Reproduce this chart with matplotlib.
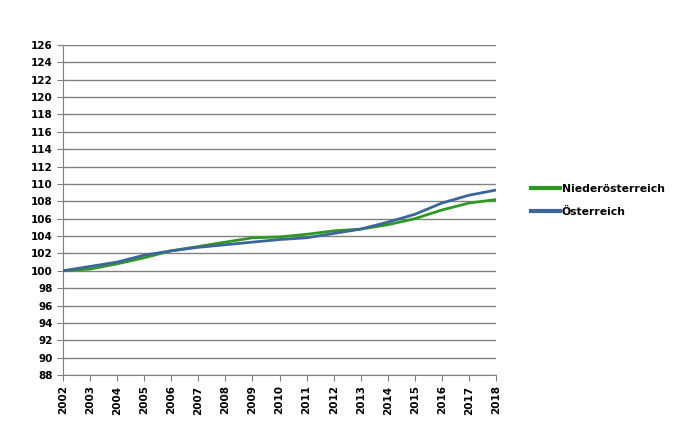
import matplotlib.pyplot as plt

years = list(range(2002, 2019))
noe = [100.0, 100.2, 100.8, 101.5, 102.3, 102.8, 103.3, 103.8, 103.9, 104.2,
       104.6, 104.8, 105.3, 106.0, 107.0, 107.8, 108.2]
oe = [100.0, 100.5, 101.0, 101.8, 102.3, 102.7, 103.0, 103.3, 103.6, 103.8,
      104.3, 104.8, 105.6, 106.5, 107.8, 108.7, 109.3]
yticks = list(range(88, 127, 2))

fig = plt.figure(figsize=(6.88, 4.32), dpi=100)
ax = fig.add_axes([63/688, 1 - 375/432, (496 - 63)/688, (375 - 45)/432])

ax.plot(years, noe, color='#2f9a22', lw=2.0, label='Niederösterreich', zorder=3)
ax.plot(years, oe, color='#3a6699', lw=2.0, label='Österreich', zorder=3)

ax.set_xlim(2002, 2018)
ax.set_ylim(88, 126)
ax.set_yticks(yticks)
ax.set_xticks(years)
ax.set_xticklabels([str(y) for y in years], rotation=90, fontsize=7.5, fontweight='bold')
ax.set_yticklabels([str(v) for v in yticks], fontsize=7.5, fontweight='bold')

ax.grid(axis='y', color='#808080', lw=1)
for s in ['top', 'right']:
    ax.spines[s].set_visible(False)
for s in ['left', 'bottom']:
    ax.spines[s].set_color('#808080')
ax.tick_params(axis='both', color='#808080', length=4, direction='out')

leg = ax.legend(loc='center left', bbox_to_anchor=(1.058, 0.53), frameon=False,
                handlelength=2.7, handletextpad=0.15, labelspacing=1.2,
                prop={'weight': 'bold', 'size': 7.8})
for l in leg.get_lines():
    l.set_linewidth(3)

fig.savefig('out.png', dpi=100)
